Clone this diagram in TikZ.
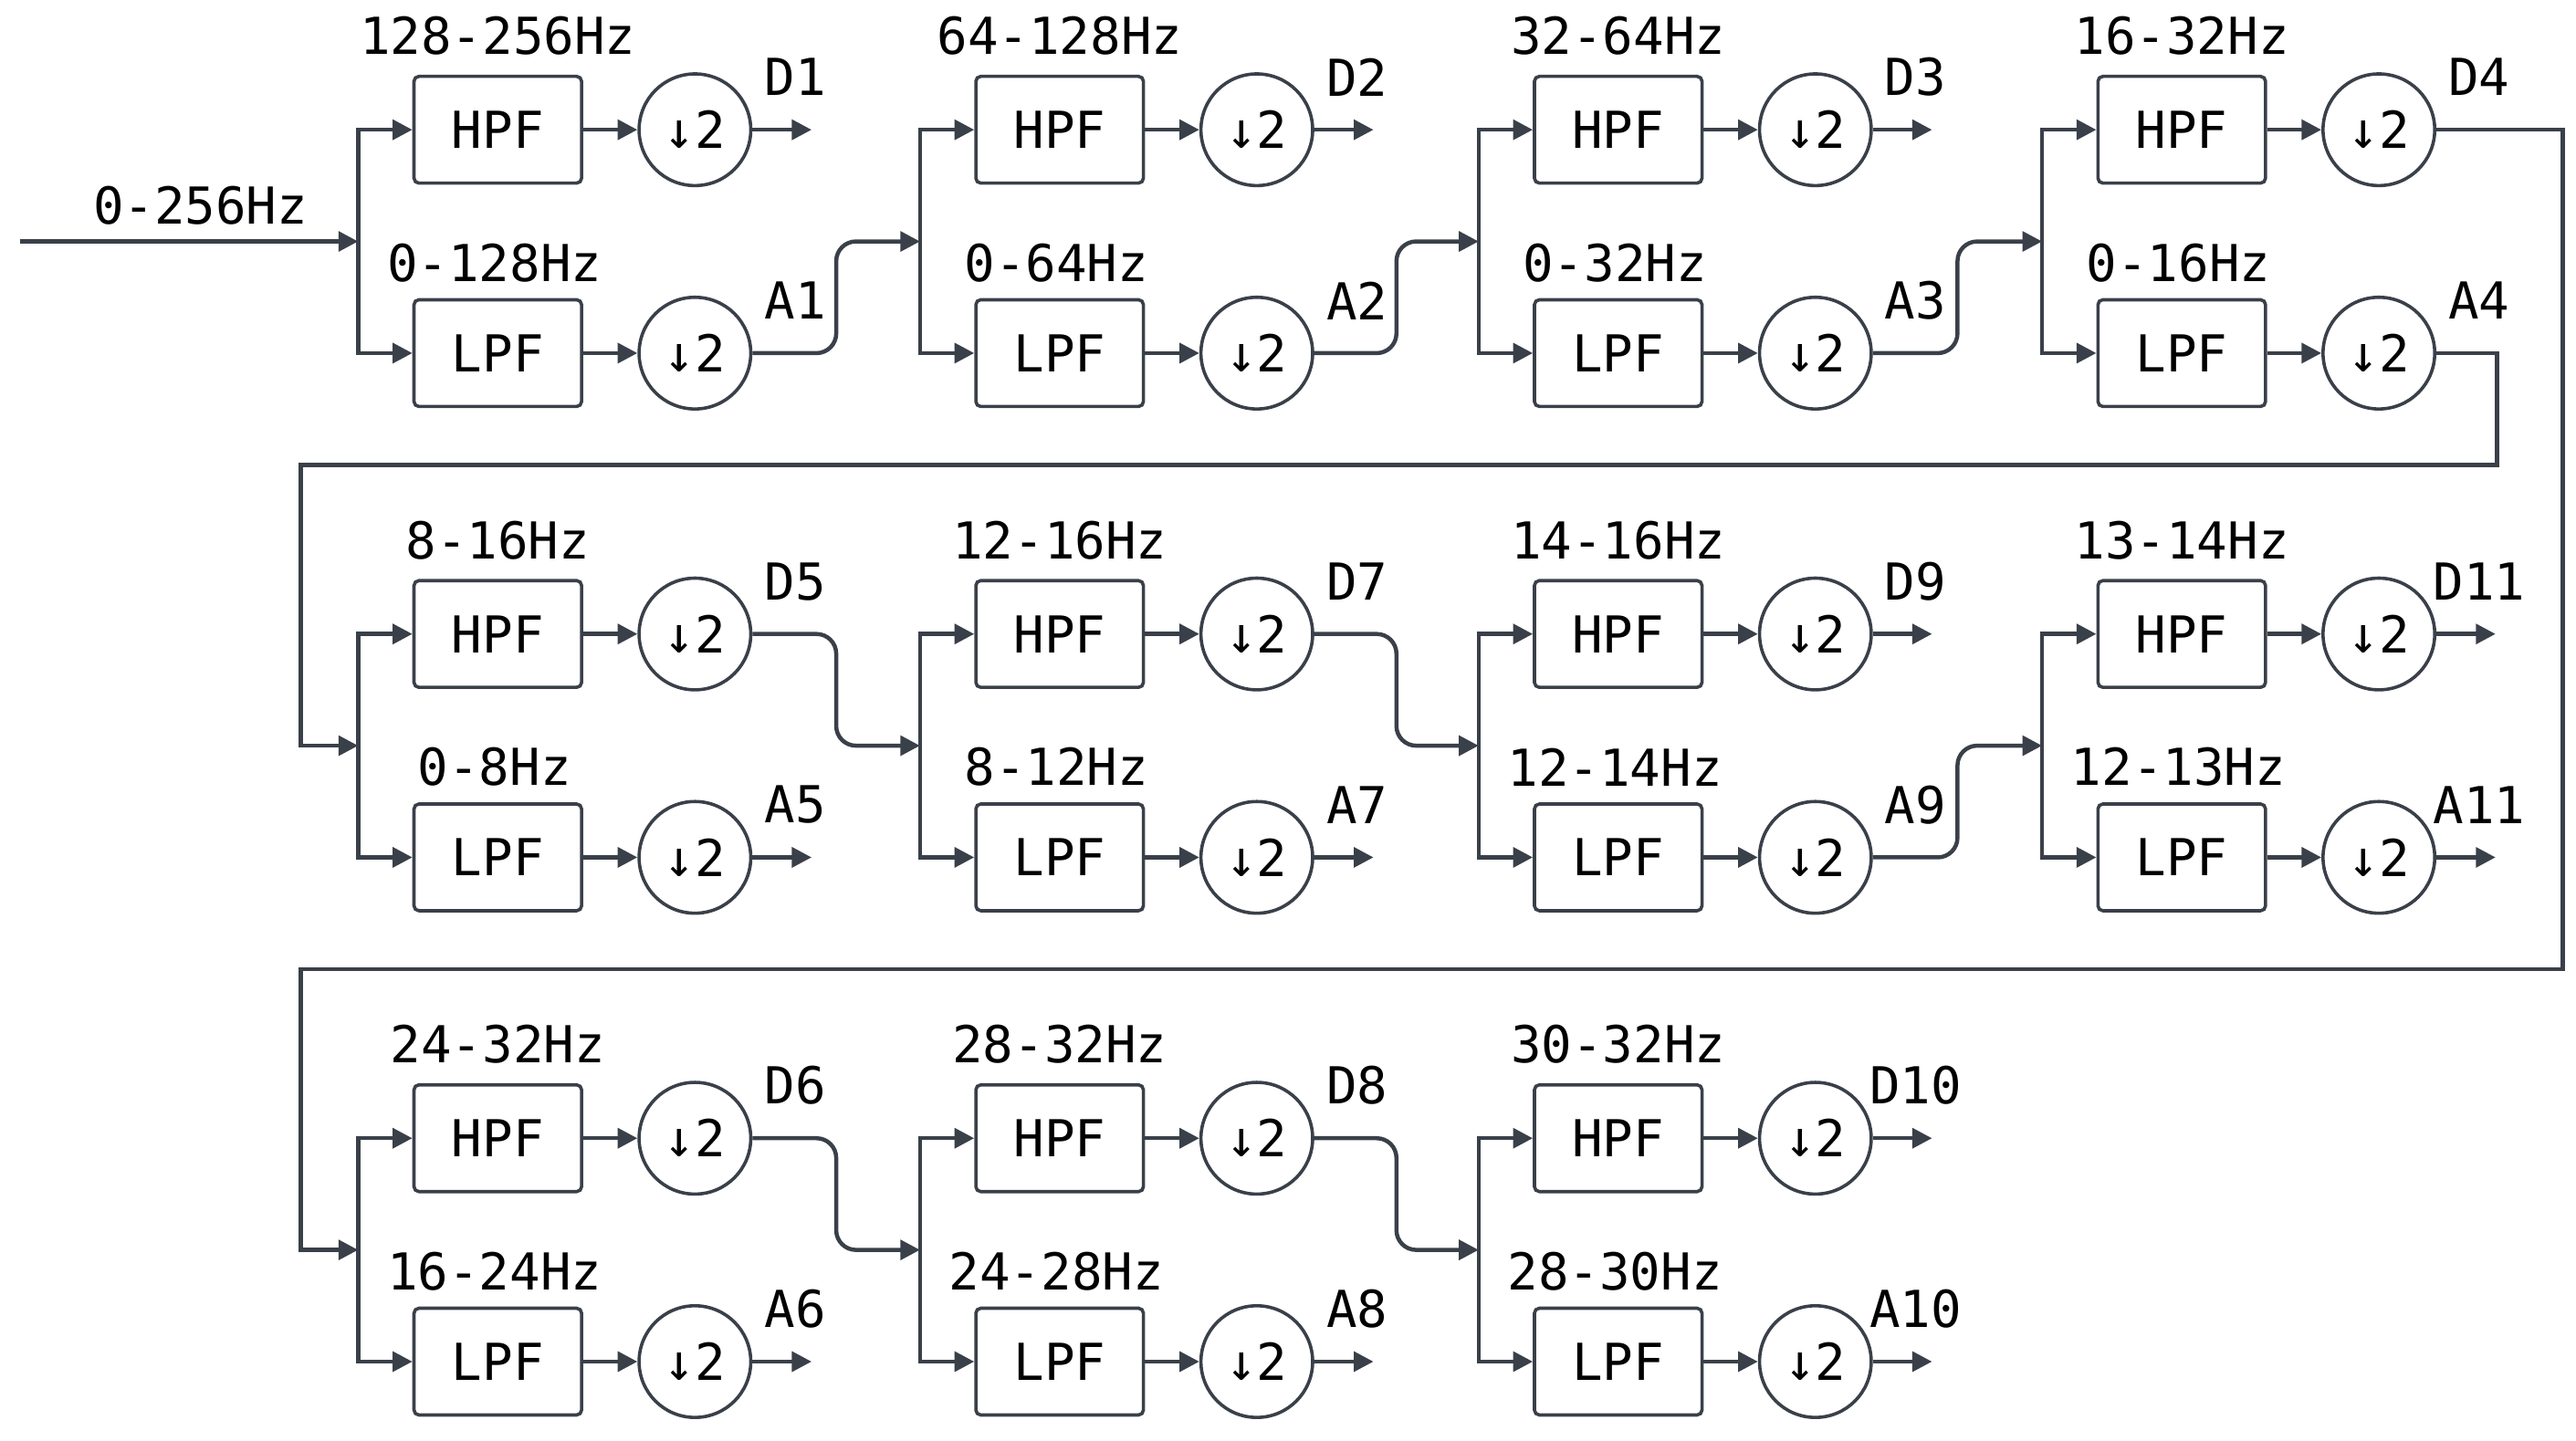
\documentclass[tikz,border=0pt]{standalone}
\usepackage{fontspec}
\setmainfont{DejaVu Sans Mono}
\usetikzlibrary{arrows.meta,calc}
\definecolor{ink}{HTML}{3A4049}
\begin{document}
\begin{tikzpicture}[x=1pt,y=1pt,
  every node/.style={font=\fontsize{31}{36}\selectfont,text=black},
  box/.style={draw=ink,line width=2pt,rounded corners=3pt,minimum width=102pt,minimum height=65pt,inner sep=0pt},
  dn/.style={draw=ink,line width=2pt,circle,minimum size=68pt,inner sep=0pt},
  lbl/.style={inner sep=0pt},
  ln/.style={draw=ink,line width=2.5pt},
  arr/.style={ln,-{Triangle[length=12pt,width=12pt]}},
  cv/.style={arr,rounded corners=12pt}]
\useasboundingbox (0,0) rectangle (1568,-877);
\newcommand\stage[5]{%
  \node[box] (h#1) at (#2,-#3) {HPF};
  \node[box] (l#1) at (#2,{-#3-136}) {LPF};
  \node[dn] (ch#1) at ({#2+120},-#3) {↓2};
  \node[dn] (cl#1) at ({#2+120},{-#3-136}) {↓2};
  \node[lbl] at (#2,{-#3+57}) {#4};
  \node[lbl] at ({#2-2},{-#3-81}) {#5};
  \coordinate (j#1) at ({#2-85},{-#3-68});
  \draw[arr] (j#1) |- (h#1.west);
  \draw[arr] (j#1) |- (l#1.west);
  \draw[arr] (h#1) -- (ch#1);
  \draw[arr] (l#1) -- (cl#1);}
\newcommand\outl[2]{\node[lbl] at ($(#1.east)+(26,32)$) {#2};}
\newcommand\outa[2]{\draw[arr] (#1.east) -- ++(36,0);\outl{#1}{#2}}
\newcommand\link[3]{\draw[cv] (#1.east) -| ($(#1.east)!.5!(#2)$) |- (#2);\outl{#1}{#3}}
% row 1
\stage{11}{303}{79}{128-256Hz}{0-128Hz}
\stage{12}{645}{79}{64-128Hz}{0-64Hz}
\stage{13}{985}{79}{32-64Hz}{0-32Hz}
\stage{14}{1328}{79}{16-32Hz}{0-16Hz}
% row 2
\stage{21}{303}{386}{8-16Hz}{0-8Hz}
\stage{22}{645}{386}{12-16Hz}{8-12Hz}
\stage{23}{985}{386}{14-16Hz}{12-14Hz}
\stage{24}{1328}{386}{13-14Hz}{12-13Hz}
% row 3
\stage{31}{303}{693}{24-32Hz}{16-24Hz}
\stage{32}{645}{693}{28-32Hz}{24-28Hz}
\stage{33}{985}{693}{30-32Hz}{28-30Hz}
% input
\coordinate (in) at (12,-147);
\draw[arr] (in) -- (j11);
\node[lbl] at (122,-125) {0-256Hz};
% row 1 outputs
\outa{ch11}{D1}\outa{ch12}{D2}\outa{ch13}{D3}
\link{cl11}{j12}{A1}\link{cl12}{j13}{A2}\link{cl13}{j14}{A3}
\coordinate (d4a) at (1560,-79);\coordinate (d4b) at (1560,-590);\coordinate (d4c) at (183,-590);
\draw[arr] (ch14.east) -- (d4a) -- (d4b) -- (d4c) |- (j31);
\outl{ch14}{D4}
\coordinate (a4a) at (1520,-215);\coordinate (a4b) at (1520,-283);\coordinate (a4c) at (183,-283);
\draw[arr] (cl14.east) -- (a4a) -- (a4b) -- (a4c) |- (j21);
\outl{cl14}{A4}
% row 2 outputs
\link{ch21}{j22}{D5}\outa{cl21}{A5}
\link{ch22}{j23}{D7}\outa{cl22}{A7}
\outa{ch23}{D9}\link{cl23}{j24}{A9}
\outa{ch24}{D11}\outa{cl24}{A11}
% row 3 outputs
\link{ch31}{j32}{D6}\outa{cl31}{A6}
\link{ch32}{j33}{D8}\outa{cl32}{A8}
\outa{ch33}{D10}\outa{cl33}{A10}
\end{tikzpicture}
\end{document}
